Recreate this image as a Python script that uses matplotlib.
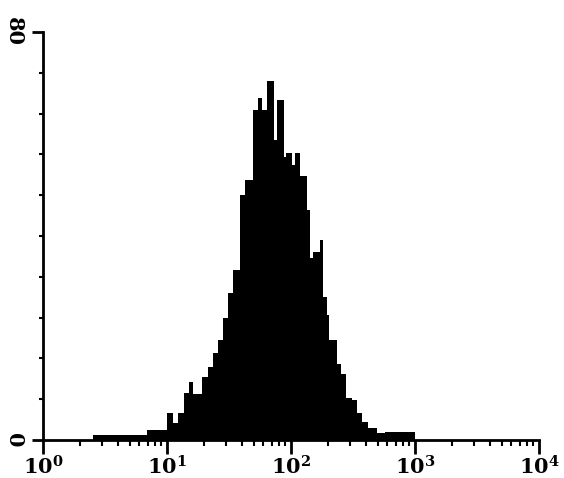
import numpy as np
import matplotlib
matplotlib.use("Agg")
from matplotlib import pyplot as plt
from matplotlib.ticker import FixedLocator, NullFormatter

# histogram: bin edges in decades (log10 of channel) and counts
edges_dec = [0.40, 0.84, 1.00, 1.05, 1.09, 1.14, 1.18, 1.21, 1.28, 1.33, 1.37,
             1.41, 1.45, 1.49, 1.53, 1.59, 1.63, 1.69, 1.73, 1.77, 1.81, 1.86,
             1.89, 1.94, 1.96, 2.01, 2.03, 2.07, 2.13, 2.15, 2.18, 2.23, 2.26,
             2.29, 2.31, 2.37, 2.40, 2.44, 2.49, 2.53, 2.57, 2.62, 2.69, 2.76,
             3.00]
counts = [1, 2, 5.3, 3.3, 5.3, 9.2, 11.4, 9, 12.4, 14.3, 17, 19.6, 24, 28.8,
          33.3, 48, 51, 64.7, 67, 64.7, 70.4, 58.8, 66.7, 55.5, 56.3, 54, 56.3,
          51.8, 45, 35.7, 36.9, 39.2, 28, 24.5, 19.6, 15, 13, 8.2, 7.8, 5.3,
          3.5, 2.4, 1.4, 1.5]

x_ticks = [1, 10, 100, 1000, 10000]
x_labels = [r"$\mathbf{10^0}$", r"$\mathbf{10^1}$", r"$\mathbf{10^2}$",
            r"$\mathbf{10^3}$", r"$\mathbf{10^4}$"]
y_max = 80

plt.rcParams["mathtext.fontset"] = "dejavuserif"

fig = plt.figure(figsize=(5.64, 4.78), dpi=100)
ax = fig.add_axes([43/564, 38/478, 496/564, 408/478])

edges = 10 ** np.array(edges_dec)
ax.stairs(counts, edges, fill=True, color="black")

ax.set_xscale("log")
ax.set_xlim(1, 10000)
ax.set_ylim(0, y_max)

for s in ["top", "right"]:
    ax.spines[s].set_visible(False)
for s in ["left", "bottom"]:
    ax.spines[s].set_linewidth(2)
    ax.spines[s].set_color("black")

ax.set_xticks(x_ticks)
ax.set_xticklabels(x_labels, fontsize=15)
ax.tick_params(axis="x", which="major", direction="out", length=10, width=2, pad=1)
ax.tick_params(axis="x", which="minor", direction="out", length=4, width=1.5)
ax.xaxis.set_minor_formatter(NullFormatter())

ax.set_yticks([0, y_max])
ax.set_yticklabels(["0", "80"], fontsize=15, fontweight="bold",
                   family="DejaVu Serif", rotation=270, va="center")
ax.yaxis.set_minor_locator(FixedLocator(np.arange(8, 80, 8)))
ax.tick_params(axis="y", which="major", direction="out", length=8, width=2, pad=6)
ax.tick_params(axis="y", which="minor", direction="out", length=3, width=1.5)

fig.savefig("out.png", dpi=100)
